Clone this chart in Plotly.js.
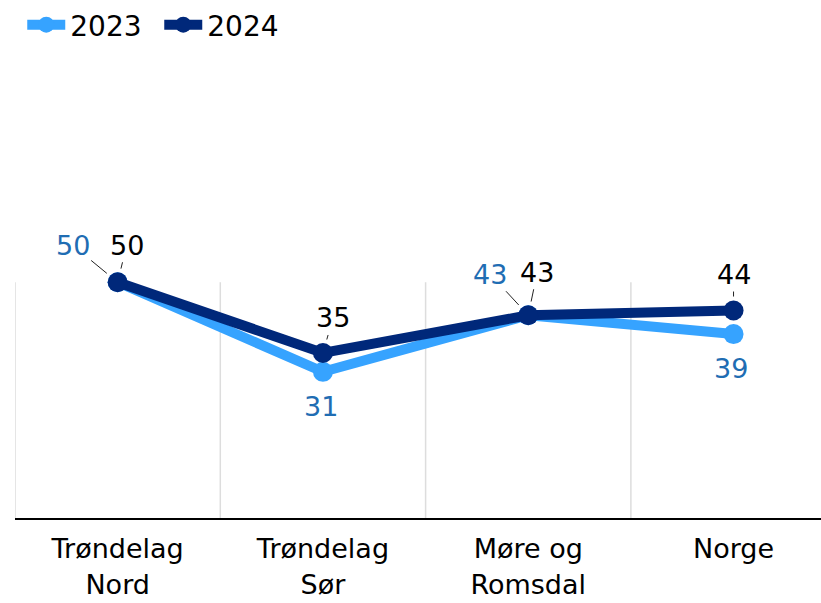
<!DOCTYPE html>
<html><head><meta charset="utf-8">
<script src="https://cdn.plot.ly/plotly-3.0.1.min.js"></script>
<style>html,body{margin:0;padding:0;background:#fff;overflow:hidden}</style>
</head><body><div id="chart" style="width:821px;height:603px"></div>
<script>
// ---- data ----
const categories = ['Trøndelag Nord', 'Trøndelag Sør', 'Møre og Romsdal', 'Norge'];
const tickLabels = ['Trøndelag<br>Nord', 'Trøndelag<br>Sør', 'Møre og<br>Romsdal', 'Norge'];
const seriesNames = ['2023', '2024'];
const values2023 = [50, 31, 43, 39];
const values2024 = [50, 35, 43, 44];

// ---- styles ----
const FONT = '"DejaVu Sans", sans-serif';
const colors = ['#36a3ff', '#00287a'];
const labelColors = ['#1f6db3', '#000000'];
// label offsets in px: [dx, dy(screen, down positive), leader line?]
const offsets2023 = [[-45, -37, true], [-2, 35, false], [-38, -41, true], [-3, 34, false]];
const offsets2024 = [[9, -37, true], [10, -35, true], [9, -43, true], [0, -36, true]];

const series = [values2023, values2024];
const offsets = [offsets2023, offsets2024];

const traces = series.map((vals, i) => ({
  type: 'scatter', mode: 'lines+markers', name: seriesNames[i],
  x: categories, y: vals,
  line: {color: colors[i], width: 10},
  marker: {color: colors[i], size: 20},
  cliponaxis: false, hoverinfo: 'skip'
}));

const annotations = [];
series.forEach((vals, i) => {
  vals.forEach((v, j) => {
    const [dx, dy, arrow] = offsets[i][j];
    const a = {
      x: categories[j], y: v, text: String(v),
      font: {family: FONT, size: 27, color: labelColors[i]}
    };
    if (arrow) {
      Object.assign(a, {showarrow: true, ax: dx, ay: dy, arrowhead: 0,
        arrowwidth: 1, arrowcolor: '#222', standoff: 14});
    } else {
      Object.assign(a, {showarrow: false, xshift: dx, yshift: -dy});
    }
    annotations.push(a);
  });
});

const ymax = Math.max(...values2023, ...values2024);
const shapes = [-0.5, 0.5, 1.5, 2.5].map(xv => ({
  type: 'line', xref: 'x', yref: 'y', x0: xv, x1: xv, y0: 0, y1: ymax,
  line: {color: '#dddddd', width: 1.5}, layer: 'below'
}));

const layout = {
  width: 821, height: 603,
  margin: {l: 15, r: 0, t: 100, b: 85},
  paper_bgcolor: '#fff', plot_bgcolor: '#fff',
  font: {family: FONT, color: '#000'},
  showlegend: true,
  legend: {orientation: 'h', x: 0.009, xanchor: 'left', y: 1.192, yanchor: 'middle',
    itemwidth: 38, entrywidth: 84, entrywidthmode: 'pixels',
    font: {family: FONT, size: 28, color: '#000'}, itemclick: false, traceorder: 'normal'},
  xaxis: {type: 'category', range: [-0.5, 3.426], tickmode: 'array',
    tickvals: categories, ticktext: tickLabels, showgrid: false, zeroline: false,
    showline: true, linecolor: '#000', linewidth: 2, ticks: 'outside', ticklen: 6,
    tickcolor: 'rgba(0,0,0,0)',
    tickfont: {family: FONT, size: 27, color: '#000'}, fixedrange: true},
  yaxis: {range: [0, 87.8], showgrid: false, zeroline: false, showticklabels: false,
    showline: false, ticks: '', fixedrange: true},
  shapes: shapes,
  annotations: annotations
};

Plotly.newPlot('chart', traces, layout, {displayModeBar: false, staticPlot: true});
</script></body></html>
